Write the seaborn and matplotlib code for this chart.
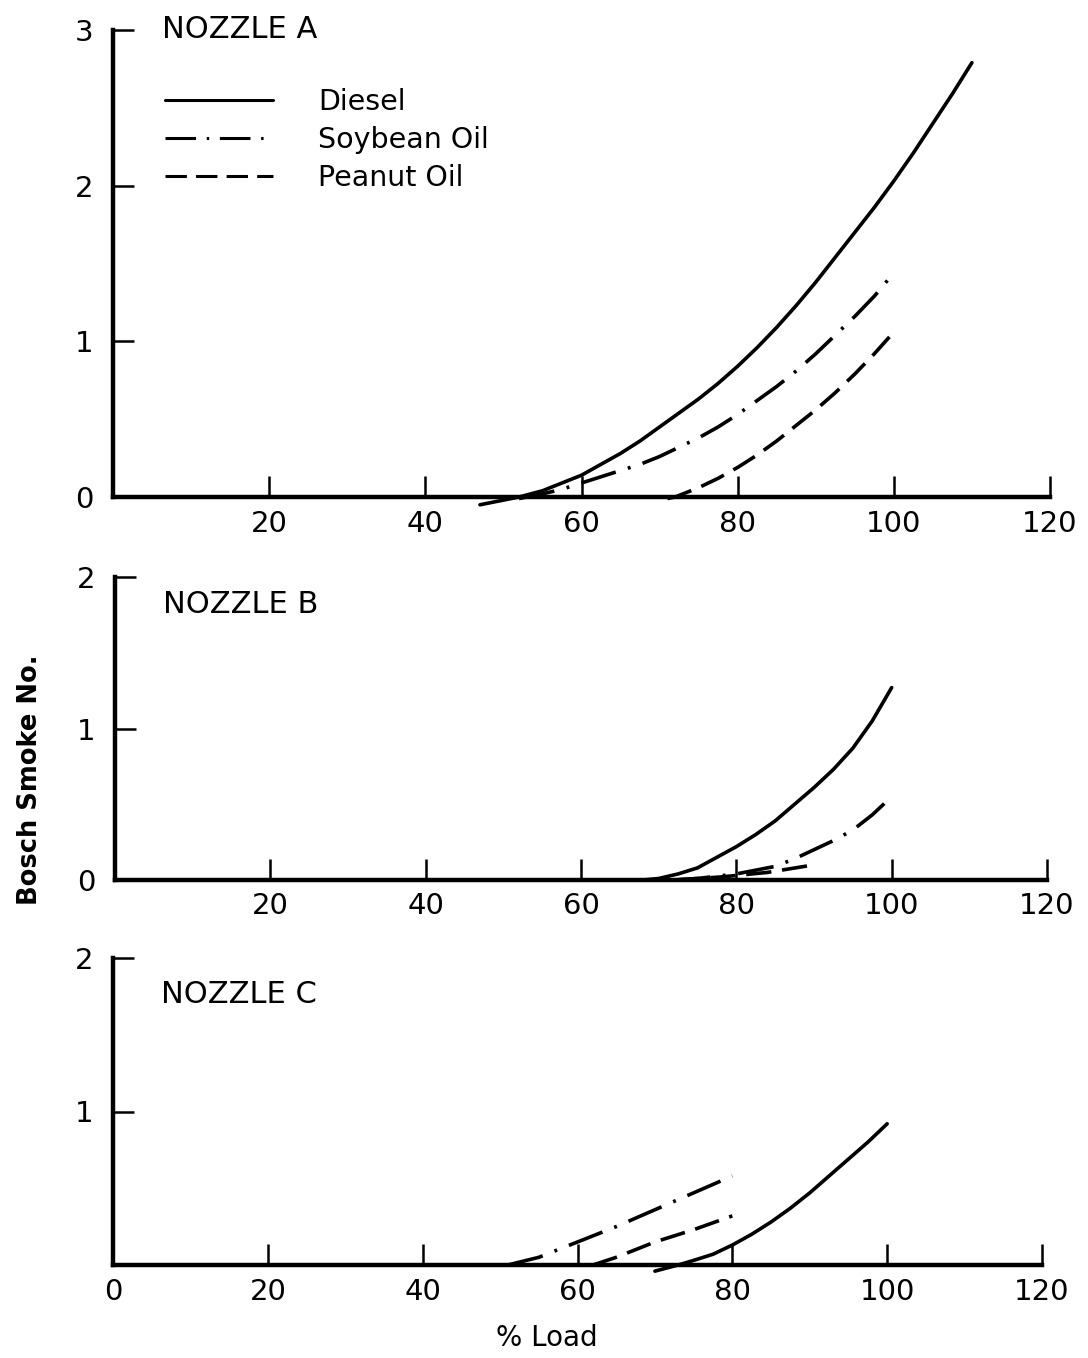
import matplotlib
matplotlib.use("Agg")
import matplotlib.pyplot as plt
import pandas as pd
import seaborn as sns

# Nozzle A
a_diesel_x = [47, 52, 55, 57.5, 60, 62.5, 65, 67.5, 70, 72.5, 75, 77.5, 80, 82.5, 85,
              87.5, 90, 92.5, 95, 97.5, 100, 102.5, 105, 107.5, 110]
a_diesel_y = [-0.05, 0.0, 0.04, 0.09, 0.14, 0.21, 0.28, 0.36, 0.45, 0.54, 0.63, 0.73, 0.84,
              0.96, 1.09, 1.23, 1.38, 1.54, 1.70, 1.86, 2.03, 2.21, 2.40, 2.59, 2.79]
a_soy_x = [52, 55, 57.5, 60, 62.5, 65, 67.5, 70, 72.5, 75, 77.5, 80, 82.5, 85, 87.5, 90,
           92.5, 95, 97.5, 100]
a_soy_y = [-0.01, 0.02, 0.05, 0.09, 0.13, 0.17, 0.21, 0.26, 0.32, 0.38, 0.45, 0.53, 0.62,
           0.71, 0.81, 0.92, 1.04, 1.16, 1.29, 1.44]
a_peanut_x = [71, 72, 75, 77.5, 80, 82.5, 85, 87.5, 90, 92.5, 95, 97.5, 100]
a_peanut_y = [-0.01, 0.0, 0.06, 0.12, 0.19, 0.27, 0.36, 0.46, 0.56, 0.67, 0.79, 0.92, 1.06]

# Nozzle B
b_diesel_x = [68, 70, 72.5, 75, 77.5, 80, 82.5, 85, 87.5, 90, 92.5, 95, 97.5, 100]
b_diesel_y = [0.0, 0.01, 0.04, 0.08, 0.15, 0.22, 0.30, 0.39, 0.50, 0.61, 0.73, 0.87, 1.05, 1.27]
b_soy_x = [72, 75, 80, 85, 87.5, 90, 92.5, 95, 97.5, 100]
b_soy_y = [0.0, 0.01, 0.04, 0.09, 0.14, 0.20, 0.26, 0.33, 0.43, 0.55]
b_peanut_x = [72, 78, 84, 90]
b_peanut_y = [0.0, 0.02, 0.05, 0.10]

# Nozzle C
c_diesel_x = [70, 73, 75, 77.5, 80, 82.5, 85, 87.5, 90, 92.5, 95, 97.5, 100]
c_diesel_y = [-0.04, 0.0, 0.03, 0.07, 0.13, 0.20, 0.28, 0.37, 0.47, 0.58, 0.69, 0.80, 0.92]
c_soy_x = [51, 55, 60, 65, 70, 75, 80]
c_soy_y = [0.0, 0.05, 0.15, 0.25, 0.36, 0.47, 0.58]
c_peanut_x = [62, 65, 70, 75, 80]
c_peanut_y = [0.0, 0.05, 0.15, 0.23, 0.32]

fuels = ["Diesel", "Soybean Oil", "Peanut Oil"]
x_ticks = [20, 40, 60, 80, 100, 120]


def make_df(dx, dy, sx, sy, px, py):
    parts = []
    for name, xs, ys in zip(fuels, [dx, sx, px], [dy, sy, py]):
        parts.append(pd.DataFrame({"load": xs, "smoke": ys, "fuel": name}))
    return pd.concat(parts, ignore_index=True)


panels = [
    ("NOZZLE A", make_df(a_diesel_x, a_diesel_y, a_soy_x, a_soy_y, a_peanut_x, a_peanut_y), 3),
    ("NOZZLE B", make_df(b_diesel_x, b_diesel_y, b_soy_x, b_soy_y, b_peanut_x, b_peanut_y), 2),
    ("NOZZLE C", make_df(c_diesel_x, c_diesel_y, c_soy_x, c_soy_y, c_peanut_x, c_peanut_y), 2),
]

sns.set_style("white", rc={"text.color": "black", "axes.labelcolor": "black",
                           "xtick.color": "black", "ytick.color": "black",
                           "xtick.bottom": True, "ytick.left": True})
plt.rcParams["font.family"] = ["DejaVu Sans"]

W, H = 1088, 1358
fig = plt.figure(figsize=(W / 100, H / 100), dpi=100)

# axes boxes in pixels: left, y of zero, right, y of max
boxes = [(113, 497, 1050, 30), (115, 880, 1047, 577), (113, 1265, 1042, 958)]
title_y = [1.0, 0.91, 0.88]

dashes = {"Diesel": "", "Soybean Oil": (10, 3.5, 0.8, 3.5), "Peanut Oil": (7, 3)}

for i, ((title, df, ymax), (l, b, r, t)) in enumerate(zip(panels, boxes)):
    ax = fig.add_axes([l / W, 1 - b / H, (r - l) / W, (b - t) / H])
    sns.lineplot(data=df, x="load", y="smoke", style="fuel", style_order=fuels,
                 dashes=dashes, color="black", linewidth=2.6, ax=ax,
                 legend=(i == 0), sort=True, estimator=None, clip_on=False)
    ax.set_xlim(0, 120)
    ax.set_ylim(0, ymax)
    sns.despine(ax=ax)
    for s in ["left", "bottom"]:
        ax.spines[s].set_linewidth(3.2)
        ax.spines[s].set_color("black")
    if i == 2:
        ax.set_xticks([0] + x_ticks)
        ax.set_xticklabels(["0"] + [str(v) for v in x_ticks])
        ax.set_yticks([0, 1, 2])
        ax.set_yticklabels(["", "1", "2"])
    else:
        ax.set_xticks(x_ticks)
        ax.set_xticklabels([str(v) for v in x_ticks])
        ax.set_yticks(list(range(ymax + 1)))
        ax.set_yticklabels([str(v) for v in range(ymax + 1)])
    ax.tick_params(axis="both", direction="in", length=15, width=1.8,
                   labelsize=21, colors="black", pad=9, bottom=True, left=True)
    ax.tick_params(axis="y", pad=14)
    ax.set_xlabel("")
    ax.set_ylabel("")
    ax.text(0.052, title_y[i], title, transform=ax.transAxes, fontsize=22,
            va="center", ha="left", color="black")
    if i == 0:
        handles, labels = ax.get_legend_handles_labels()
        for h in handles:
            h.set_linewidth(2.2)
        ax.legend(handles, labels, loc="upper left", bbox_to_anchor=(0.055, 0.875),
                  frameon=False, fontsize=20.5, handlelength=3.8, handletextpad=1.6,
                  labelspacing=0.35, borderpad=0, borderaxespad=0, labelcolor="black")

fig.text(30 / W, 1 - 780 / H, "Bosch Smoke No.", rotation=90, fontsize=18.5,
         fontweight="bold", ha="center", va="center", color="black")
fig.text(547 / W, 1 - 1338 / H, "% Load", fontsize=20, ha="center", va="center",
         color="black")

fig.savefig("out.png", dpi=100)
